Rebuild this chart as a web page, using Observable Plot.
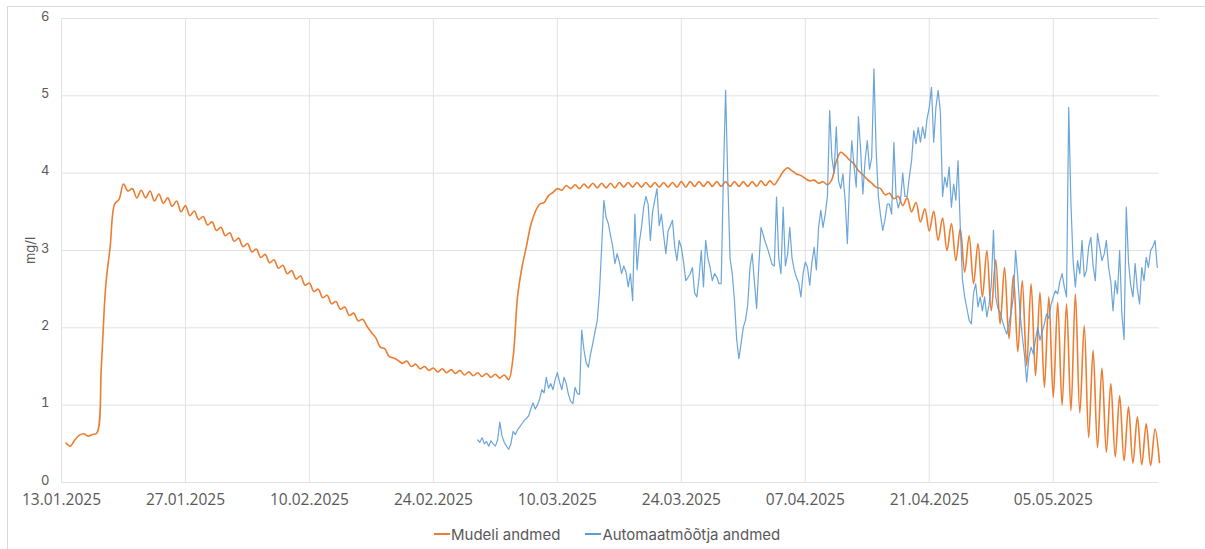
<!DOCTYPE html>
<html>
<head>
<meta charset="utf-8">
<script src="https://cdn.jsdelivr.net/npm/d3@7"></script>
<script src="https://cdn.jsdelivr.net/npm/@observablehq/plot@0.6"></script>
<style>
  html, body { margin: 0; padding: 0; background: #ffffff; }
  body { width: 1205px; height: 549px; position: relative; overflow: hidden; font-family: Inter, "Open Sans", sans-serif; }
  #frame { position: absolute; left: 7px; top: 6px; width: 1230px; height: 580px; border: 1px solid #d9d9d9; box-sizing: border-box; }
  #chart { position: absolute; left: 0; top: 0; }
  #legend { position: absolute; left: 434px; top: 524px; height: 20px; display: flex; align-items: center; font-size: 15px; color: #595959; white-space: nowrap; }
  .item { display: flex; align-items: center; margin-right: 25px; }
  .swatch { width: 16px; height: 0; border-top: 2px solid; margin-right: 1px; }
</style>
</head>
<body>
<div id="frame"></div>
<div id="chart"></div>
<div id="legend"></div>
<script>
// ---- data ----
const seriesNames = ["Mudeli andmed", "Automaatmõõtja andmed"];
const seriesColors = ["#ED7D31", "#5B9BD5"];
const xTickLabels = ["13.01.2025", "27.01.2025", "10.02.2025", "24.02.2025", "10.03.2025", "24.03.2025", "07.04.2025", "21.04.2025", "05.05.2025"];
const xDomainLabels = ["13.01.2025", "17.05.2025"];
const yTicks = [0, 1, 2, 3, 4, 5, 6];
const yLabel = "mg/l";

// model series: one value every 12 hours from modelStart
const modelStart = "13.01.2025 12:00";
const modelStepHours = 12;
const modelValues = [
  0.51, 0.47, 0.55, 0.61, 0.63, 0.60, 0.62, 0.64, 1.50, 2.55,
  3.05, 3.60, 3.66, 3.86, 3.77, 3.80, 3.68, 3.78, 3.68, 3.77,
  3.64, 3.73, 3.61, 3.68, 3.57, 3.64, 3.50, 3.58, 3.45, 3.51,
  3.40, 3.44, 3.33, 3.37, 3.26, 3.30, 3.19, 3.23, 3.12, 3.16,
  3.05, 3.09, 2.98, 3.02, 2.91, 2.95, 2.84, 2.88, 2.77, 2.81,
  2.70, 2.74, 2.63, 2.67, 2.55, 2.58, 2.47, 2.50, 2.39, 2.42,
  2.31, 2.34, 2.24, 2.27, 2.16, 2.19, 2.09, 2.11, 2.02, 1.94,
  1.87, 1.75, 1.73, 1.63, 1.61, 1.58, 1.54, 1.57, 1.50, 1.53,
  1.47, 1.50, 1.45, 1.48, 1.43, 1.47, 1.42, 1.46, 1.41, 1.45,
  1.39, 1.43, 1.38, 1.42, 1.37, 1.41, 1.36, 1.40, 1.35, 1.39,
  1.33, 1.62, 2.40, 2.78, 3.05, 3.33, 3.50, 3.60, 3.62, 3.71,
  3.75, 3.80, 3.78, 3.84, 3.80, 3.85, 3.80, 3.86, 3.81, 3.87,
  3.81, 3.87, 3.81, 3.87, 3.81, 3.88, 3.82, 3.88, 3.82, 3.88,
  3.82, 3.88, 3.82, 3.88, 3.82, 3.88, 3.82, 3.88, 3.82, 3.89,
  3.82, 3.89, 3.83, 3.89, 3.83, 3.89, 3.83, 3.89, 3.83, 3.89,
  3.83, 3.89, 3.83, 3.89, 3.83, 3.89, 3.83, 3.90, 3.84, 3.90,
  3.85, 3.93, 4.02, 4.07, 4.03, 3.99, 3.97, 3.93, 3.90, 3.91,
  3.87, 3.89, 3.85, 3.92, 4.15, 4.27, 4.23, 4.17, 4.12, 4.03,
  3.98, 3.92, 3.87, 3.82, 3.80, 3.72, 3.74, 3.67, 3.70, 3.58,
  3.68, 3.50, 3.62, 3.37, 3.54, 3.25, 3.51, 3.13, 3.42, 3.00,
  3.35, 2.87, 3.28, 2.72, 3.19, 2.57, 3.09, 2.40, 3.00, 2.22,
  2.88, 2.05, 2.78, 1.86, 2.68, 1.69, 2.61, 1.51, 2.57, 1.38,
  2.46, 1.23, 2.40, 1.10, 2.33, 1.00, 2.31, 0.93, 2.44, 0.90,
  2.03, 0.58, 1.71, 0.45, 1.48, 0.39, 1.28, 0.33, 1.12, 0.28,
  0.98, 0.25, 0.85, 0.23, 0.76, 0.22, 0.69, 0.26
];

// sensor series: one value every 6 hours from sensorStart
const sensorStart = "01.03.2025 00:00";
const sensorStepHours = 6;
const sensorValues = [
  0.55, 0.52, 0.58, 0.50, 0.53, 0.47, 0.54, 0.50,
  0.47, 0.55, 0.78, 0.60, 0.52, 0.47, 0.43, 0.50,
  0.66, 0.62, 0.68, 0.72, 0.76, 0.80, 0.83, 0.86,
  0.95, 1.03, 0.95, 1.00, 1.08, 1.20, 1.16, 1.36,
  1.22, 1.28, 1.20, 1.33, 1.42, 1.30, 1.20, 1.36,
  1.28, 1.14, 1.05, 1.02, 1.23, 1.15, 1.14, 1.97,
  1.72, 1.55, 1.49, 1.66, 1.80, 1.95, 2.09, 2.45,
  3.04, 3.65, 3.43, 3.35, 3.20, 3.05, 2.83, 2.96,
  2.85, 2.70, 2.80, 2.72, 2.53, 2.70, 2.35, 3.47,
  2.75, 3.10, 3.30, 3.56, 3.70, 3.60, 3.13, 3.50,
  3.65, 3.80, 3.32, 3.47, 3.20, 2.96, 3.25, 3.32,
  3.39, 3.05, 2.87, 3.13, 3.04, 2.85, 2.61, 2.65,
  2.70, 2.78, 2.45, 2.40, 2.65, 3.00, 2.53, 3.13,
  2.90, 2.78, 2.61, 2.70, 2.66, 2.57, 2.57, 3.95,
  5.07, 3.90, 2.90, 2.70, 2.35, 1.85, 1.60, 1.80,
  2.01, 2.10, 2.30, 2.78, 2.96, 2.60, 2.25, 2.80,
  3.30, 3.20, 3.10, 3.02, 2.92, 2.82, 2.80, 3.69,
  2.90, 2.70, 3.56, 2.80, 2.95, 3.30, 2.90, 2.75,
  2.65, 2.58, 2.40, 2.70, 2.85, 2.78, 2.55, 2.85,
  3.04, 2.75, 3.30, 3.52, 3.30, 3.47, 3.70, 4.81,
  4.20, 4.00, 4.60, 3.90, 3.80, 3.99, 3.65, 3.09,
  3.90, 4.42, 4.10, 3.82, 4.73, 4.30, 3.73, 4.16,
  4.42, 4.05, 4.20, 5.35, 4.30, 3.70, 3.45, 3.26,
  3.40, 3.60, 3.60, 3.47, 4.40, 3.70, 3.55, 3.65,
  4.00, 3.70, 3.70, 3.95, 4.16, 4.55, 4.38, 4.59,
  4.40, 4.60, 4.45, 4.70, 4.85, 5.11, 4.40, 4.85,
  5.07, 4.80, 3.70, 3.95, 3.82, 4.08, 3.56, 3.86,
  3.65, 4.16, 3.31, 2.62, 2.40, 2.25, 2.10, 2.05,
  2.45, 2.57, 2.27, 2.40, 2.22, 2.40, 2.14, 2.30,
  2.55, 3.26, 2.40, 2.25, 2.20, 2.09, 2.00, 1.92,
  2.05, 2.20, 2.40, 3.00, 2.65, 2.20, 1.90, 1.65,
  1.30, 1.62, 1.75, 1.66, 1.85, 2.01, 1.84, 1.95,
  2.05, 2.18, 2.12, 2.30, 2.40, 2.48, 2.44, 2.60,
  2.70, 2.53, 2.40, 4.85, 3.60, 2.85, 2.53, 2.87,
  2.70, 3.13, 2.66, 2.74, 3.05, 3.17, 2.80, 2.61,
  3.22, 3.04, 2.87, 2.95, 3.13, 2.78, 2.60, 2.22,
  2.61, 2.44, 3.00, 2.18, 1.85, 3.56, 2.85, 2.55,
  2.40, 2.83, 2.50, 2.31, 2.78, 2.61, 2.91, 2.78,
  3.00, 3.05, 3.13, 2.78
];

// ---- build tables ----
const parseDay = d3.utcParse("%d.%m.%Y");
const parseTime = d3.utcParse("%d.%m.%Y %H:%M");
const HOUR = 3600 * 1000;
const toSeries = (start, step, values) => {
  const t0 = +parseTime(start);
  return values.map((v, i) => ({ date: new Date(t0 + i * step * HOUR), value: v }));
};
const model = toSeries(modelStart, modelStepHours, modelValues);
const sensor = toSeries(sensorStart, sensorStepHours, sensorValues);
const xTicks = xTickLabels.map(parseDay);
const fmt = d3.utcFormat("%d.%m.%Y");

const chart = Plot.plot({
  width: 1205,
  height: 512,
  marginLeft: 61,
  marginRight: 46,
  marginTop: 18,
  marginBottom: 30,
  style: { fontFamily: "Inter, 'Open Sans', sans-serif", color: "#595959", background: "transparent", overflow: "visible" },
  x: { type: "utc", domain: xDomainLabels.map(parseDay) },
  y: { domain: [0, 6] },
  marks: [
    Plot.gridY(yTicks, { stroke: "#e2e2e2", strokeOpacity: 1, strokeWidth: 1 }),
    Plot.gridX(xTicks, { stroke: "#e2e2e2", strokeOpacity: 1, strokeWidth: 1 }),
    Plot.axisX(xTicks, { tickSize: 0, tickPadding: 11, fontSize: 15.5, fontFamily: "'Open Sans', sans-serif", tickFormat: fmt, label: null, fill: "#595959" }),
    Plot.axisY(yTicks, { tickSize: 0, tickPadding: 12, fontSize: 13, dy: -2, tickFormat: d3.format("d"), label: yLabel, labelAnchor: "center", labelArrow: "none", labelOffset: 36, fill: "#595959" }),
    Plot.line(model, { x: "date", y: "value", stroke: seriesColors[0], strokeWidth: 1.6, curve: "catmull-rom" }),
    Plot.line(sensor, { x: "date", y: "value", stroke: seriesColors[1], strokeWidth: 1.2, strokeOpacity: 0.9 })
  ]
});
document.getElementById("chart").appendChild(chart);

// ---- legend ----
const legend = document.getElementById("legend");
seriesNames.forEach((name, i) => {
  const item = document.createElement("div");
  item.className = "item";
  const sw = document.createElement("span");
  sw.className = "swatch";
  sw.style.borderTopColor = seriesColors[i];
  const label = document.createElement("span");
  label.textContent = name;
  item.appendChild(sw);
  item.appendChild(label);
  legend.appendChild(item);
});
</script>
</body>
</html>
